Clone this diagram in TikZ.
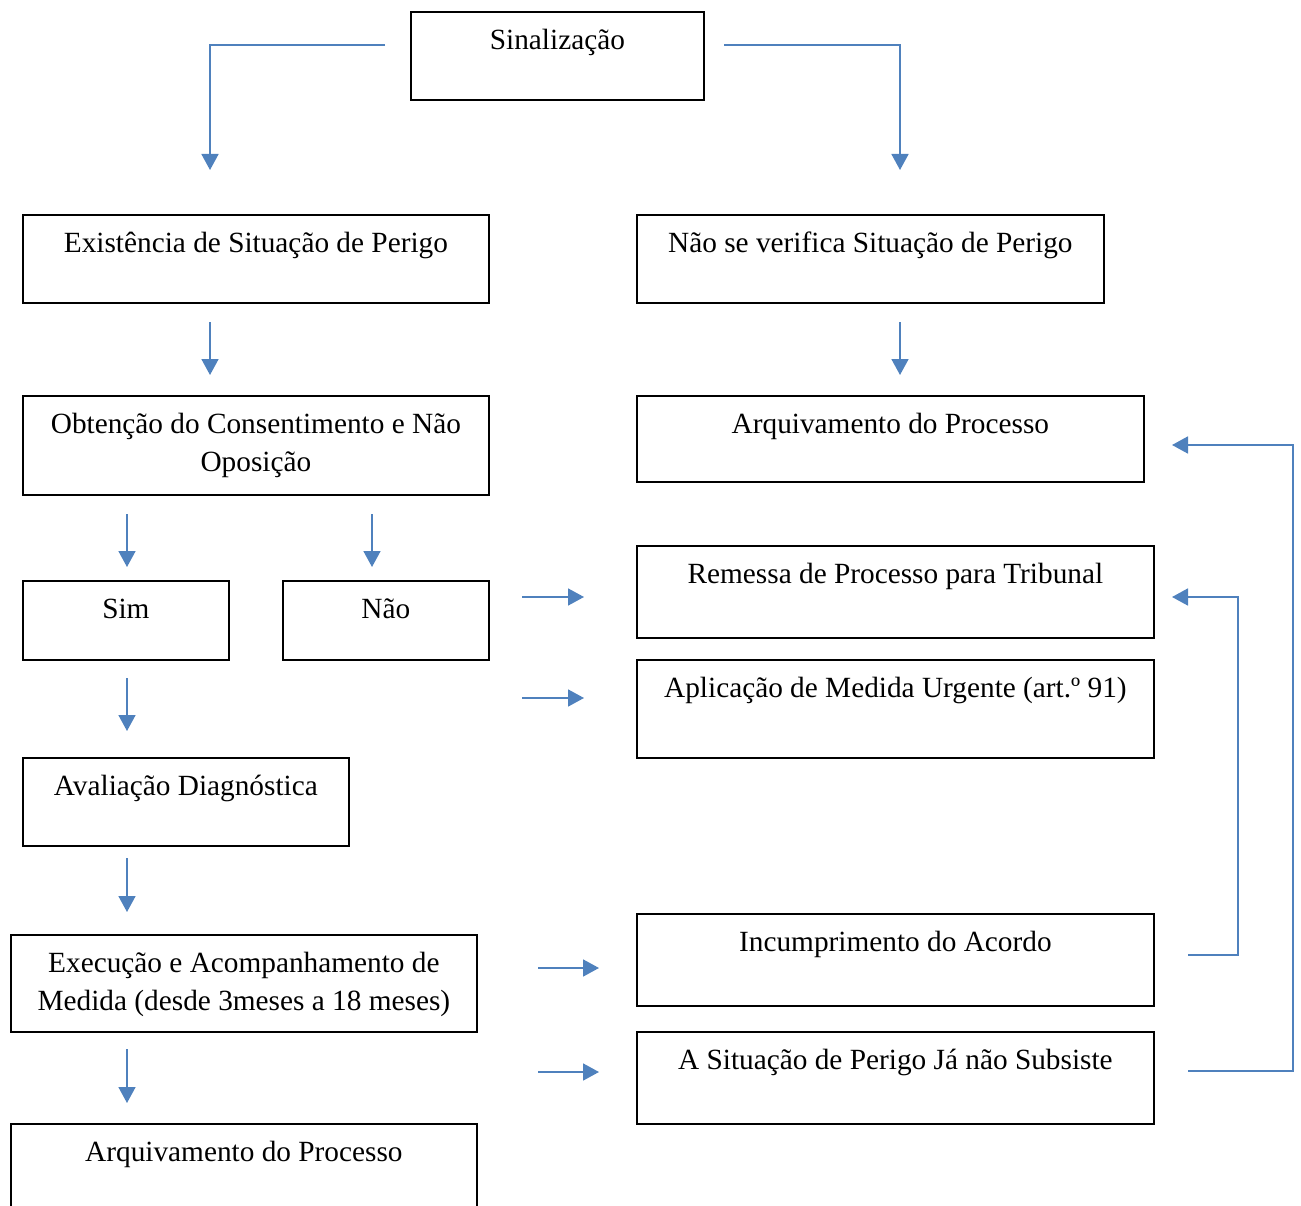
\documentclass[tikz,border=0pt]{standalone}
\usepackage{fontspec}
\setmainfont{Liberation Serif}
\usepackage{tikz}
\usetikzlibrary{arrows.meta}

\definecolor{flowblue}{HTML}{4F81BD}
% text sits at the top of each box
\newcommand{\boxtext}[3]{\parbox[t][#2pt][t]{#1pt}{\centering\rule{0pt}{38pt}#3}}

\begin{document}
\begin{tikzpicture}[x=1pt,y=-1pt,
    flowbox/.style={draw, line width=1.8pt, inner sep=0pt, anchor=north west,
                    font=\fontsize{29.3}{38}\selectfont},
    flow/.style={draw=flowblue, line width=1.7pt,
                 -{Triangle[length=16pt,width=17pt]}, flowblue}]
    \useasboundingbox (0,0) rectangle (1301,1206);
    \clip (0,0) rectangle (1301,1206);

    % boxes
    \node[flowbox] (sinal) at (410,11) {\boxtext{293}{88}{Sinalização}};
    \node[flowbox] (perigo) at (22,214) {\boxtext{466}{88}{Existência de Situação de Perigo}};
    \node[flowbox] (semperigo) at (636,214) {\boxtext{467}{88}{Não se verifica Situação de Perigo}};
    \node[flowbox] (consent) at (22,395) {\boxtext{466}{99}{Obtenção do Consentimento e Não\\Oposição}};
    \node[flowbox] (arqtop) at (636,395) {\boxtext{507}{86}{Arquivamento do Processo}};
    \node[flowbox] (sim) at (22,580) {\boxtext{206}{79}{Sim}};
    \node[flowbox] (nao) at (282,580) {\boxtext{206}{79}{Não}};
    \node[flowbox] (remessa) at (636,545) {\boxtext{517}{92}{Remessa de Processo para Tribunal}};
    \node[flowbox] (urgente) at (636,659) {\boxtext{517}{98}{Aplicação de Medida Urgente (art.º 91)}};
    \node[flowbox] (avalia) at (22,757) {\boxtext{326}{88}{Avaliação Diagnóstica}};
    \node[flowbox] (execucao) at (10,934) {\boxtext{466}{97}{Execução e Acompanhamento de\\Medida (desde 3meses a 18 meses)}};
    \node[flowbox] (incump) at (636,913) {\boxtext{517}{92}{Incumprimento do Acordo}};
    \node[flowbox] (subsiste) at (636,1031) {\boxtext{517}{92}{A Situação de Perigo Já não Subsiste}};
    \node[flowbox] (arqbot) at (10,1123) {\boxtext{466}{92}{Arquivamento do Processo}};

    % arrow ends
    \coordinate (s1) at (385,45);    \coordinate (e1) at (210,170);
    \coordinate (s2) at (724,45);    \coordinate (e2) at (900,170);
    \coordinate (s3) at (210,322);   \coordinate (e3) at (210,375);
    \coordinate (s4) at (900,322);   \coordinate (e4) at (900,375);
    \coordinate (s5) at (127,514);   \coordinate (e5) at (127,567);
    \coordinate (s6) at (372,514);   \coordinate (e6) at (372,567);
    \coordinate (s7) at (522,597);   \coordinate (e7) at (584,597);
    \coordinate (s8) at (522,698);   \coordinate (e8) at (584,698);
    \coordinate (s9) at (127,678);   \coordinate (e9) at (127,731);
    \coordinate (s10) at (127,858);  \coordinate (e10) at (127,912);
    \coordinate (s11) at (538,968);  \coordinate (e11) at (599,968);
    \coordinate (s12) at (538,1072); \coordinate (e12) at (599,1072);
    \coordinate (s13) at (127,1049); \coordinate (e13) at (127,1103);
    \coordinate (s14) at (1188,955); \coordinate (e14) at (1172,597);
    \coordinate (s15) at (1188,1071); \coordinate (e15) at (1172,445);

    % arrows
    \draw[flow] (s1) -| (e1);
    \draw[flow] (s2) -| (e2);
    \draw[flow] (s3) -- (e3);
    \draw[flow] (s4) -- (e4);
    \draw[flow] (s5) -- (e5);
    \draw[flow] (s6) -- (e6);
    \draw[flow] (s7) -- (e7);
    \draw[flow] (s8) -- (e8);
    \draw[flow] (s9) -- (e9);
    \draw[flow] (s10) -- (e10);
    \draw[flow] (s11) -- (e11);
    \draw[flow] (s12) -- (e12);
    \draw[flow] (s13) -- (e13);
    \draw[flow] (s14) -- (1238,955) -- (1238,597) -- (e14);
    \draw[flow] (s15) -- (1293,1071) -- (1293,445) -- (e15);
\end{tikzpicture}
\end{document}
